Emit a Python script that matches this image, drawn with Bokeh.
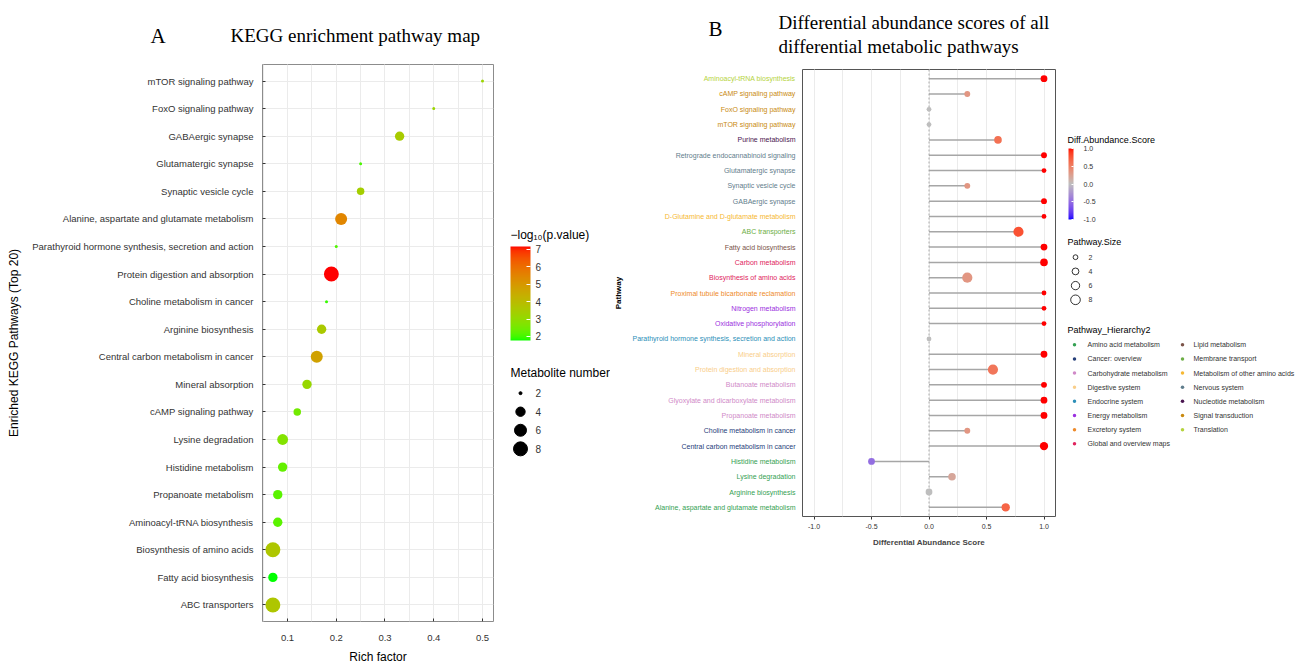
import numpy as np
from bokeh.plotting import figure
from bokeh.layouts import row, column
from bokeh.models import (ColumnDataSource, FactorRange, Range1d, LinearColorMapper,
                          ColorBar, FixedTicker, SingleIntervalTicker, Span,
                          PrintfTickFormatter, Spacer)
from bokeh.transform import factor_cmap
from bokeh.core.properties import value
from bokeh.embed import file_html
from bokeh.resources import INLINE

# ---------------- Panel A data (listed top to bottom) ----------------
a_pathways = [
    "mTOR signaling pathway", "FoxO signaling pathway", "GABAergic synapse",
    "Glutamatergic synapse", "Synaptic vesicle cycle",
    "Alanine, aspartate and glutamate metabolism",
    "Parathyroid hormone synthesis, secretion and action",
    "Protein digestion and absorption", "Choline metabolism in cancer",
    "Arginine biosynthesis", "Central carbon metabolism in cancer",
    "Mineral absorption", "cAMP signaling pathway", "Lysine degradation",
    "Histidine metabolism", "Propanoate metabolism", "Aminoacyl-tRNA biosynthesis",
    "Biosynthesis of amino acids", "Fatty acid biosynthesis", "ABC transporters"]
a_rich_factor = [0.50, 0.40, 0.33, 0.25, 0.25, 0.21, 0.20, 0.19, 0.18, 0.17,
                 0.16, 0.14, 0.12, 0.09, 0.09, 0.08, 0.08, 0.07, 0.07, 0.07]
a_neg_log10_p = [3.2, 3.2, 3.5, 2.05, 3.4, 5.45, 2.1, 7.17, 1.93, 3.55,
                 4.75, 3.1, 2.47, 2.74, 2.3, 2.2, 2.2, 3.66, 1.77, 3.66]
a_metabolites = [2, 2, 4, 2, 3, 6, 2, 9, 2, 4, 6, 4, 3, 5, 4, 4, 4, 9, 4, 9]
a_size_breaks = [2, 4, 6, 8]
a_color_ticks = [2, 3, 4, 5, 6, 7]

# ---------------- Panel B data (listed top to bottom) ----------------
b_pathways = [
    "Aminoacyl-tRNA biosynthesis", "cAMP signaling pathway", "FoxO signaling pathway",
    "mTOR signaling pathway", "Purine metabolism", "Retrograde endocannabinoid signaling",
    "Glutamatergic synapse", "Synaptic vesicle cycle", "GABAergic synapse",
    "D-Glutamine and D-glutamate metabolism", "ABC transporters", "Fatty acid biosynthesis",
    "Carbon metabolism", "Biosynthesis of amino acids",
    "Proximal tubule bicarbonate reclamation", "Nitrogen metabolism",
    "Oxidative phosphorylation", "Parathyroid hormone synthesis, secretion and action",
    "Mineral absorption", "Protein digestion and absorption", "Butanoate metabolism",
    "Glyoxylate and dicarboxylate metabolism", "Propanoate metabolism",
    "Choline metabolism in cancer", "Central carbon metabolism in cancer",
    "Histidine metabolism", "Lysine degradation", "Arginine biosynthesis",
    "Alanine, aspartate and glutamate metabolism"]
b_score = [1.0, 0.333, 0.0, 0.0, 0.6, 1.0, 1.0, 0.333, 1.0, 1.0, 0.778, 1.0, 1.0, 0.333,
           1.0, 1.0, 1.0, 0.0, 1.0, 0.556, 1.0, 1.0, 1.0, 0.333, 1.0, -0.5, 0.2, 0.0, 0.667]
b_size = [4, 3, 2, 2, 5, 3, 2, 3, 3, 2, 9, 4, 5, 9, 2, 2, 2, 2, 4, 9, 3, 4, 4, 3, 6, 4, 5, 4, 6]
b_hierarchy = [
    "Translation", "Signal transduction", "Signal transduction", "Signal transduction",
    "Nucleotide metabolism", "Nervous system", "Nervous system", "Nervous system",
    "Nervous system", "Metabolism of other amino acids", "Membrane transport",
    "Lipid metabolism", "Global and overview maps", "Global and overview maps",
    "Excretory system", "Energy metabolism", "Energy metabolism", "Endocrine system",
    "Digestive system", "Digestive system", "Carbohydrate metabolism",
    "Carbohydrate metabolism", "Carbohydrate metabolism", "Cancer: overview",
    "Cancer: overview", "Amino acid metabolism", "Amino acid metabolism",
    "Amino acid metabolism", "Amino acid metabolism"]
hier_levels = [
    "Amino acid metabolism", "Cancer: overview", "Carbohydrate metabolism",
    "Digestive system", "Endocrine system", "Energy metabolism", "Excretory system",
    "Global and overview maps", "Lipid metabolism", "Membrane transport",
    "Metabolism of other amino acids", "Nervous system", "Nucleotide metabolism",
    "Signal transduction", "Translation"]
hier_colors = [
    "#35A153", "#27407A", "#D08AC8", "#F9CE8A", "#2C8FB8", "#9B30E0", "#EE8A2A",
    "#E0245E", "#7B5449", "#6DAE45", "#F6B833", "#5F7D8C", "#4A1650", "#C98A10", "#B5D33D"]
b_size_breaks = [2, 4, 6, 8]
b_color_ticks = [-1.0, -0.5, 0.0, 0.5, 1.0]

# ---------------- colour helpers (Lab interpolation like ggplot) ----------------
_M = np.array([[0.4124564, 0.3575761, 0.1804375],
               [0.2126729, 0.7151522, 0.0721750],
               [0.0193339, 0.1191920, 0.9503041]])
_WP = np.array([0.95047, 1.0, 1.08883])


def _to_lab(h):
    c = np.array([int(h[i:i + 2], 16) for i in (1, 3, 5)]) / 255.0
    lin = np.where(c <= 0.04045, c / 12.92, ((c + 0.055) / 1.055) ** 2.4)
    xyz = _M @ lin / _WP
    d = 6 / 29
    f = np.where(xyz > d ** 3, np.cbrt(xyz), xyz / (3 * d * d) + 4 / 29)
    return np.array([116 * f[1] - 16, 500 * (f[0] - f[1]), 200 * (f[1] - f[2])])


def _from_lab(lab):
    L, a, b = lab
    fy = (L + 16) / 116
    f = np.array([fy + a / 500, fy, fy - b / 200])
    d = 6 / 29
    xyz = np.where(f > d, f ** 3, 3 * d * d * (f - 4 / 29)) * _WP
    lin = np.clip(np.linalg.inv(_M) @ xyz, 0, 1)
    c = np.where(lin <= 0.0031308, 12.92 * lin, 1.055 * lin ** (1 / 2.4) - 0.055)
    c = np.clip(c, 0, 1)
    return "#%02x%02x%02x" % tuple(int(round(v * 255)) for v in c)


def lab_ramp(c0, c1, n):
    l0, l1 = _to_lab(c0), _to_lab(c1)
    return [_from_lab(l0 + (l1 - l0) * t) for t in np.linspace(0, 1, n)]


palA = lab_ramp("#00FF00", "#FF0000", 256)
palB = lab_ramp("#0000FF", "#BEBEBE", 128) + lab_ramp("#BEBEBE", "#FF0000", 128)

mapA = LinearColorMapper(palette=palA, low=min(a_neg_log10_p), high=max(a_neg_log10_p))
mapB = LinearColorMapper(palette=palB, low=-1, high=1)

NMIN, NMAX = min(a_metabolites), max(a_metabolites)


def size_a(n):
    return 3.0 + 11.9 * np.sqrt((n - NMIN) / (NMAX - NMIN))


def size_b(n):
    return 3.4 * np.sqrt(n)


SANS = "Liberation Sans"
SERIF = "Liberation Serif"
TOP, BOT = 6, 41            # shared top / bottom borders of all plots in the row
HA = 608                    # height of panel A figures
HB = 494                    # height of panel B figures
FRAME_A = HA - TOP - BOT
FRAME_B = HB - TOP - BOT


def blank(fig):
    fig.min_border_left = fig.min_border_right = 0
    fig.min_border_top, fig.min_border_bottom = TOP, BOT
    fig.outline_line_color = None


# ---------------- Panel A ----------------
yA = FactorRange(factors=a_pathways[::-1], range_padding=0.2 / len(a_pathways),
                 range_padding_units="percent")
pA = figure(width=500, height=HA, x_range=Range1d(0.0487, 0.5226), y_range=yA,
            output_backend="svg", toolbar_location=None,
            min_border_left=262, min_border_right=7, min_border_top=TOP,
            min_border_bottom=BOT)
srcA = ColumnDataSource(dict(path=a_pathways, rich=a_rich_factor, p=a_neg_log10_p,
                             size=[size_a(v) for v in a_metabolites]))
pA.scatter("rich", "path", source=srcA, size="size",
           fill_color={"field": "p", "transform": mapA}, line_color=None)
pA.xaxis.ticker = SingleIntervalTicker(interval=0.1, num_minor_ticks=2)
pA.xaxis.axis_label = "Rich factor"
pA.yaxis.axis_label = "Enriched KEGG Pathways (Top 20)"
for ax in (pA.xaxis[0], pA.yaxis[0]):
    ax.axis_label_text_font = SANS
    ax.axis_label_text_font_style = "normal"
    ax.axis_label_text_font_size = "12px"
    ax.axis_label_text_color = "black"
    ax.major_label_text_font = SANS
    ax.major_label_text_font_size = "9.5px"
    ax.major_label_text_color = "#333333"
    ax.major_tick_in = 3
    ax.major_tick_out = 0
    ax.major_tick_line_color = "#333333"
    ax.minor_tick_line_color = None
    ax.axis_line_color = None
pA.yaxis.major_label_standoff = 9
pA.yaxis.axis_label_standoff = 8
pA.xaxis.major_label_standoff = 9
pA.xaxis.axis_label_standoff = 6
pA.xgrid.grid_line_color = "#EBEBEB"
pA.xgrid.minor_grid_line_color = "#EBEBEB"
pA.ygrid.grid_line_color = "#EBEBEB"
pA.outline_line_color = "#8C8C8C"
pA.outline_line_width = 1

# ---------------- Panel A legends ----------------
lA = figure(width=110, height=HA, x_range=Range1d(0, 110), y_range=Range1d(FRAME_A, 0),
            x_axis_type=None, y_axis_type=None, output_backend="svg",
            toolbar_location=None)
blank(lA)
lA.text(x=[10], y=[172], text=["\u2212log\u2081\u2080(p.value)"], text_font=value(SANS),
        text_font_size=value("12px"), text_baseline="middle", text_color="black")
cbA = ColorBar(color_mapper=mapA, orientation="vertical", location=(10, 281),
               width=20, height=94, padding=0, margin=0,
               ticker=FixedTicker(ticks=a_color_ticks),
               major_label_text_font_size="10px", major_label_text_color="#333333",
               major_label_text_font=SANS, label_standoff=5,
               major_tick_line_color="white", major_tick_in=4, major_tick_out=0,
               minor_tick_line_color=None, bar_line_color=None,
               background_fill_color=None, border_line_color=None)
lA.add_layout(cbA)
lA.text(x=[10], y=[311], text=["Metabolite number"], text_font=value(SANS),
        text_font_size=value("12px"), text_baseline="middle", text_color="black")
legA_y = [331 + 18.7 * i for i in range(len(a_size_breaks))]
lA.scatter(x=20, y=legA_y, size=[size_a(v) for v in a_size_breaks], color="black")
lA.text(x=35, y=legA_y, text=[str(v) for v in a_size_breaks], text_font=value(SANS),
        text_font_size=value("10px"), text_baseline="middle", text_color="#333333")

# ---------------- Panel B ----------------
yB = FactorRange(factors=b_pathways[::-1], range_padding=0.2 / len(b_pathways),
                 range_padding_units="percent")
srcB = ColumnDataSource(dict(path=b_pathways, score=b_score, hier=b_hierarchy,
                             size=[size_b(v) for v in b_size]))

lbB = figure(width=192, height=HB, x_range=Range1d(0, 192), y_range=yB,
             x_axis_type=None, y_axis_type=None, output_backend="svg",
             toolbar_location=None)
blank(lbB)
lbB.text(x=192, y="path", text="path", source=srcB, x_offset=-7, text_align="right",
         text_baseline="middle", text_font=value(SANS), text_font_size=value("7px"),
         text_color=factor_cmap("hier", hier_colors, hier_levels))
lbB.text(x=[8], y=[b_pathways[len(b_pathways) // 2]], text=["Pathway"], angle=np.pi / 2,
         text_align="center", text_baseline="middle", text_font=value(SANS),
         text_font_size=value("8px"), text_font_style="bold", text_color="black")

pB = figure(width=258, height=HB, x_range=Range1d(-1.1, 1.1), y_range=yB,
            output_backend="svg", toolbar_location=None, min_border_left=0,
            min_border_right=5, min_border_top=TOP, min_border_bottom=BOT)
pB.add_layout(Span(location=0, dimension="height", line_color="#AAAAAA",
                   line_dash="2 2", line_width=1, level="underlay"))
pB.segment(x0=0, y0="path", x1="score", y1="path", source=srcB,
           line_color="#A6A6A6", line_width=1.5)
pB.scatter("score", "path", source=srcB, size="size",
           fill_color={"field": "score", "transform": mapB}, line_color=None)
pB.xaxis.ticker = SingleIntervalTicker(interval=0.5, num_minor_ticks=2)
pB.xaxis.formatter = PrintfTickFormatter(format="%.1f")
pB.xaxis.axis_label = "Differential Abundance Score"
ax = pB.xaxis[0]
ax.axis_label_text_font = SANS
ax.axis_label_text_font_style = "bold"
ax.axis_label_text_font_size = "8px"
ax.axis_label_standoff = 6
ax.major_label_text_font = SANS
ax.major_label_text_font_size = "7px"
ax.major_label_text_color = "#333333"
ax.major_label_standoff = 3
ax.major_tick_out = 3
ax.major_tick_in = 0
ax.major_tick_line_color = "#333333"
ax.minor_tick_line_color = None
ax.axis_line_color = None
pB.yaxis.visible = False
pB.ygrid.visible = False
pB.xgrid.grid_line_color = "#EBEBEB"
pB.xgrid.minor_grid_line_color = "#EBEBEB"
pB.xgrid.grid_line_width = 0.8
pB.outline_line_color = "#555555"
pB.outline_line_width = 1

# ---------------- Panel B legends ----------------
lB = figure(width=236, height=HB, x_range=Range1d(0, 236), y_range=Range1d(FRAME_B, 0),
            x_axis_type=None, y_axis_type=None, output_backend="svg",
            toolbar_location=None)
blank(lB)
lB.text(x=[7], y=[70], text=["Diff.Abundance.Score"], text_font=value(SANS),
        text_font_size=value("9px"), text_baseline="middle", text_color="black")
cbB = ColorBar(color_mapper=mapB, orientation="vertical", location=(8, 297),
               width=5, height=71, padding=0, margin=0,
               ticker=FixedTicker(ticks=b_color_ticks),
               formatter=PrintfTickFormatter(format="%.1f"),
               major_label_text_font_size="7px", major_label_text_color="#333333",
               major_label_text_font=SANS, label_standoff=10,
               major_tick_line_color="white", major_tick_in=2, major_tick_out=0,
               minor_tick_line_color=None, bar_line_color=None,
               background_fill_color=None, border_line_color=None)
lB.add_layout(cbB)
lB.text(x=[7], y=[172], text=["Pathway.Size"], text_font=value(SANS),
        text_font_size=value("9px"), text_baseline="middle", text_color="black")
legB_y = [187.7 + 14.2 * i for i in range(len(b_size_breaks))]
lB.scatter(x=15, y=legB_y, size=[size_b(v) for v in b_size_breaks], fill_color=None,
           line_color="black", line_width=0.8)
lB.text(x=28, y=legB_y, text=[str(v) for v in b_size_breaks], text_font=value(SANS),
        text_font_size=value("7px"), text_baseline="middle", text_color="#333333")
lB.text(x=[7], y=[260], text=["Pathway_Hierarchy2"], text_font=value(SANS),
        text_font_size=value("9px"), text_baseline="middle", text_color="black")
n_col1 = (len(hier_levels) + 1) // 2
hx_dot = [14 if i < n_col1 else 122 for i in range(len(hier_levels))]
hx_txt = [27 if i < n_col1 else 133 for i in range(len(hier_levels))]
hy = [275.3 + 14.14 * (i % n_col1) for i in range(len(hier_levels))]
srcH = ColumnDataSource(dict(xd=hx_dot, xt=hx_txt, y=hy, name=hier_levels))
lB.scatter("xd", "y", source=srcH, size=3.5, line_color=None,
           fill_color=factor_cmap("name", hier_colors, hier_levels))
lB.text("xt", "y", text="name", source=srcH, text_font=value(SANS),
        text_font_size=value("7px"), text_baseline="middle", text_color="#333333")

# ---------------- titles ----------------
tf = figure(width=1296, height=58, x_range=Range1d(0, 1296), y_range=Range1d(58, 0),
            x_axis_type=None, y_axis_type=None, output_backend="svg",
            toolbar_location=None, min_border=0, outline_line_color=None)
tf.min_border_left = tf.min_border_right = tf.min_border_top = tf.min_border_bottom = 0
tf.text(x=[150, 708], y=[35, 28], text=["A", "B"], text_font=value(SERIF),
        text_font_size=value("21px"), text_baseline="alphabetic", text_color="black")
tf.text(x=[230, 778, 778], y=[35, 22, 46],
        text=["KEGG enrichment pathway map", "Differential abundance scores of all",
              "differential metabolic pathways"],
        text_font=value(SERIF), text_font_size=value("19px"),
        text_baseline="alphabetic", text_color="black")

groupB = column(Spacer(width=686, height=5), row(lbB, pB, lB))
layout = column(tf, row(pA, lA, groupB))
open("out.html", "w").write(file_html(layout, INLINE))
